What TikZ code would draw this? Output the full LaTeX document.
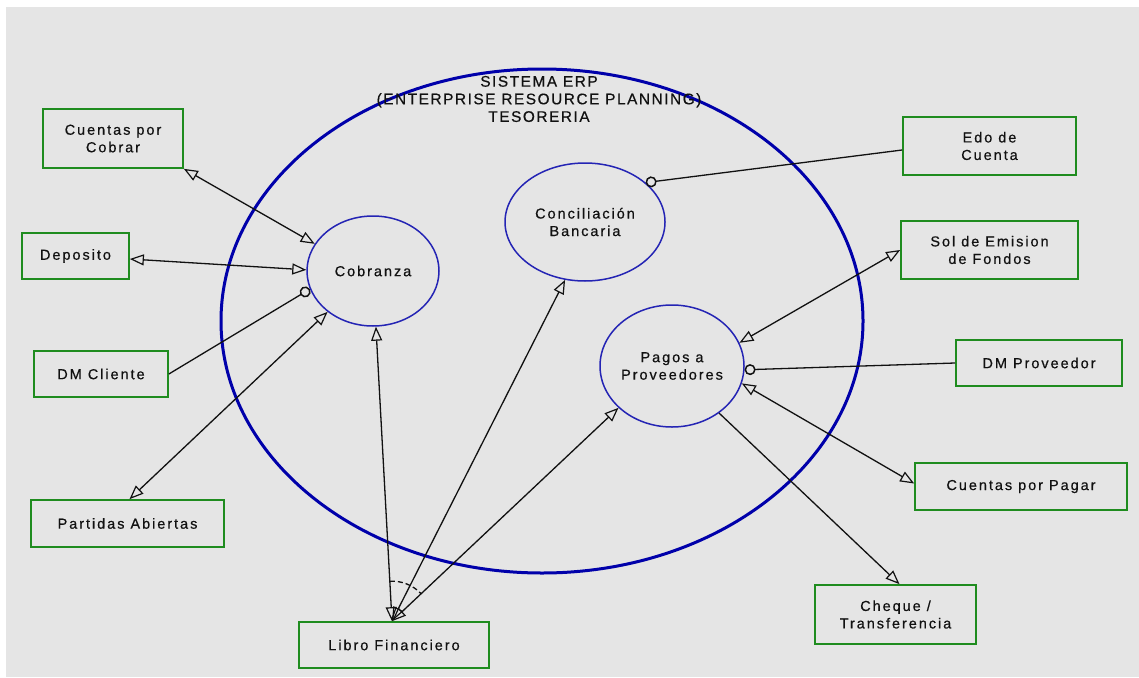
\documentclass[tikz,border=0pt]{standalone}
\usepackage{fontspec}
\setmainfont{Liberation Sans}[LetterSpace=13.5,FakeBold=0.5]
\newfontfamily\titlefont{Liberation Sans}[LetterSpace=10,FakeBold=0.5]
\usetikzlibrary{arrows.meta,shapes.geometric,calc}
\definecolor{paper}{HTML}{E5E5E5}
\definecolor{erpblue}{HTML}{0000AA}
\definecolor{procblue}{HTML}{2424B4}
\definecolor{boxgreen}{HTML}{1F8C1F}
\definecolor{ink}{HTML}{111111}
\begin{document}
\begin{tikzpicture}[x=1pt,y=1pt,
  font=\fontsize{14.5}{17.5}\selectfont,
  text=ink,
  box/.style={draw=boxgreen, line width=1.7pt, rectangle, inner sep=0pt, align=center},
  proc/.style={draw=procblue, line width=1.5pt, ellipse, inner sep=0pt, align=center},
  link/.style={draw=ink, line width=1.3pt},
  head/.style={Triangle[open,length=14pt,width=11pt,line width=1.2pt]},
  both/.style={link, {Triangle[open,length=14pt,width=11pt,line width=1.2pt]}-{Triangle[open,length=14pt,width=11pt,line width=1.2pt]}},
  tip/.style={link, -{Triangle[open,length=14pt,width=11pt,line width=1.2pt]}},
  dot/.style={link, -{Circle[open,length=11pt,line width=1.5pt]}}
]
% canvas
\useasboundingbox (0,0) rectangle (1139,-677);
\fill[white] (0,0) rectangle (1139,-677);
\fill[paper] (6,-7) rectangle (1139,-677);

% system boundary
\node[draw=erpblue, line width=3pt, ellipse, minimum width=642pt, minimum height=504pt, inner sep=0pt] (erp) at (542,-321) {};
\node[align=center, font=\titlefont\fontsize{15.4}{17.6}\selectfont] (title) at (539,-99)
  {SISTEMA ERP\\(ENTERPRISE RESOURCE PLANNING)\\TESORERIA};

% processes
\node[proc, minimum width=132pt, minimum height=110pt] (cobranza) at (373,-271) {Cobranza};
\node[proc, minimum width=160pt, minimum height=118pt] (concil) at (585,-222) {Conciliación\\Bancaria};
\node[proc, minimum width=144pt, minimum height=122pt] (pagos) at (672,-366) {Pagos a\\Proveedores};

% external documents
\node[box, minimum width=140pt, minimum height=59pt] (ccob) at (113,-138.5) {Cuentas por\\Cobrar};
\node[box, minimum width=107pt, minimum height=46pt] (dep) at (75.5,-256) {Deposito};
\node[box, minimum width=134pt, minimum height=46pt] (dmc) at (101,-374) {DM Cliente};
\node[box, minimum width=193pt, minimum height=47pt] (part) at (127.5,-523.5) {Partidas Abiertas};
\node[box, minimum width=190pt, minimum height=46pt] (libro) at (394,-645) {Libro Financiero};
\node[box, minimum width=173pt, minimum height=58pt] (edo) at (989.5,-146) {Edo de\\Cuenta};
\node[box, minimum width=177pt, minimum height=58pt] (sol) at (989.5,-250) {Sol de Emision\\de Fondos};
\node[box, minimum width=166pt, minimum height=46pt] (dmp) at (1039,-363) {DM Proveedor};
\node[box, minimum width=212pt, minimum height=47pt] (cxp) at (1021,-486.5) {Cuentas por Pagar};
\node[box, minimum width=161pt, minimum height=59pt] (cheq) at (895.5,-614.5) {Cheque /\\Transferencia};

\coordinate (hub) at ([xshift=-2pt]libro.north);

% Cobranza
\draw[both] (ccob.south east) -- (cobranza.155);
\draw[both] ([yshift=-3pt]dep.east) -- (cobranza.179);
\draw[dot] (dmc.east) -- (cobranza.196);
\draw[both] ([xshift=2pt]part.north) -- (cobranza.222);

% ledger
\draw[both] (hub) -- (cobranza.273);
\draw[both] (hub) -- (concil.251);
\draw[both] (hub) -- (pagos.218);
\draw[link, dash pattern=on 5pt off 3pt] ($(hub)+(93:40)$) arc[start angle=93, end angle=43, radius=40];

% Conciliacion
\draw[dot] ([yshift=-4pt]edo.west) -- (concil.33);

% Pagos
\draw[both] (sol.west) -- (pagos.19);
\draw[dot] (dmp.west) -- (pagos.357);
\draw[both] ([yshift=3pt]cxp.west) -- (pagos.346);
\draw[tip] (pagos.315) -- ([xshift=4pt]cheq.north);
\end{tikzpicture}
\end{document}
